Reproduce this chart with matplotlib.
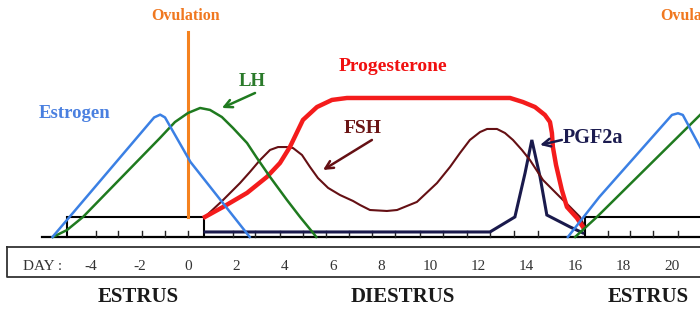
import matplotlib
matplotlib.use("Agg")
import matplotlib.pyplot as plt

# Hormone profiles over the bovine estrous cycle (day vs. relative level)
estrogen_days = [-5.6, -1.4, -1.15, -0.95, 0.1, 2.55]
estrogen_lvls = [0, 86, 88, 86, 54, 0]
estrogen2_days = [15.7, 17.0, 20.0, 20.25, 20.45, 21.4]
estrogen2_lvls = [0, 28.8, 87.8, 89, 87.8, 57]

lh_days = [-5.58, -5.0, -4.34, -1.16, -0.54, 0, 0.5, 0.91, 1.40, 1.86, 2.44,
           2.85, 3.39, 4.09, 4.63, 5.17, 5.3]
lh_lvls = [0, 5, 14.4, 71.2, 82.7, 89.2, 92.8, 91.4, 86.3, 78.4, 67.6,
           56.8, 43.2, 26.6, 14.4, 2.9, 0]
lh2_days = [16.0, 16.9, 21.5]
lh2_lvls = [0, 14.4, 93.6]

prog_days = [0.70, 1.45, 2.44, 3.26, 3.80, 4.21, 4.75, 5.33, 5.95, 6.57,
             13.31, 13.84, 14.34, 14.75, 14.96, 15.04, 15.08, 15.21, 15.45,
             15.66, 16.07, 16.32]
prog_lvls = [14.4, 21.6, 31.7, 43.2, 53.2, 64.7, 84.2, 93.5, 98.6, 100,
             100, 97.1, 93.5, 87.8, 82.7, 74.8, 64.7, 51.8, 33.8,
             21.6, 13.7, 7.2]

fsh_days = [0.70, 1.45, 2.15, 2.56, 2.98, 3.39, 3.72, 4.09, 4.34, 4.71, 5.04,
            5.37, 5.79, 6.28, 6.82, 7.11, 7.52, 8.22, 8.64, 9.46, 10.29,
            10.83, 11.24, 11.65, 12.07, 12.36, 12.77, 13.1, 13.43, 13.8,
            14.13, 14.67, 15.37, 15.79, 16.2, 16.4]
fsh_lvls = [14.4, 26.6, 38.8, 46.8, 55.4, 62.6, 64.7, 64.7, 64, 59, 50.4,
            42.4, 35.3, 30.2, 25.9, 23, 19.4, 18.7, 19.4, 25.2, 38.8,
            50.4, 60.4, 69.8, 75.5, 77.7, 77.7, 74.8, 69.8, 62.6,
            55.4, 41, 28.8, 21.6, 14.4, 7.2]

pgf_days = [0.70, 12.48, 13.51, 13.93, 14.21, 14.55, 14.83, 15.79, 16.32]
pgf_lvls = [3.6, 3.6, 14.4, 46, 69.8, 43.2, 15.8, 7.2, 2.9]

ovulation_day = 0
ovulation2_day = 20.95

# Day scale and phase bands
day_ticks = [-4, -2, 0, 2, 4, 6, 8, 10, 12, 14, 16, 18, 20]
tick_marks = [-3.8, -2.9, -1.9, -0.95, 0, 1.85, 2.75, 3.8, 4.75, 5.7, 6.65,
              7.6, 8.55, 9.59, 10.54, 11.53, 12.48, 13.47, 14.46,
              17.36, 18.26, 19.2, 20.25]
estrus1 = (-5.0, 0.66)
estrus2 = (16.4, 22.5)
phases = ["ESTRUS", "DIESTRUS", "ESTRUS"]
phase_centers = [-2.07, 8.88, 19.0]

C_EST = "#3b80e4"
C_LH = "#1f7a1f"
C_PROG = "#f41c1c"
C_FSH = "#651014"
C_PGF = "#1a1a4c"
C_OV = "#f5821f"

plt.rcParams["font.family"] = ["Liberation Serif", "DejaVu Serif"]

fig = plt.figure(figsize=(7.0, 3.28), dpi=100)
ax = fig.add_axes([0, 0, 1, 1])
ax.set_xlim(-7.77, 21.16)
ax.set_ylim(-65.5, 170.5)
ax.axis("off")

BAND = 14.4
# estrus boxes and baseline
for x0, x1 in (estrus1, estrus2):
    ax.plot([x0, x0, x1, x1], [0, BAND, BAND, 0], color="black", lw=1.5,
            solid_joinstyle="miter")
ax.plot([-6.03, 22], [0, 0], color="black", lw=1.6)
for t in tick_marks:
    ax.plot([t, t], [0, 4.0], color="#222222", lw=1.0)

# day bar
ax.plot([-7.48, -7.48, 22, 22, -7.48], [-7.2, -28.8, -28.8, -7.2, -7.2],
        color="#333333", lw=1.3)
ax.text(-6.0, -20.9, "DAY :", ha="center", va="center", fontsize=11, color="#333333")
for d in day_ticks:
    ax.text(d, -20.9, f"{d}", ha="center", va="center", fontsize=11, color="#333333")

for name, c in zip(phases, phase_centers):
    ax.text(c, -43.2, name, ha="center", va="center", fontsize=15,
            fontweight="bold", color="#1a1a1a")

# ovulation
ax.plot([ovulation_day, ovulation_day], [BAND, 147.5], color=C_OV, lw=2.2)

# hormone curves
ax.plot(pgf_days, pgf_lvls, color=C_PGF, lw=2.2, solid_joinstyle="miter")
ax.plot(fsh_days, fsh_lvls, color=C_FSH, lw=1.5)
ax.plot(prog_days, prog_lvls, color=C_PROG, lw=3.2)
ax.plot(lh_days, lh_lvls, color=C_LH, lw=1.8)
ax.plot(lh2_days, lh2_lvls, color=C_LH, lw=1.8)
ax.plot(estrogen_days, estrogen_lvls, color=C_EST, lw=1.8)
ax.plot(estrogen2_days, estrogen2_lvls, color=C_EST, lw=1.8)

# labels
lab = dict(ha="center", va="center", fontweight="bold")
ax.text(-0.12, 159, "Ovulation", color="#f07820", fontsize=11.5, **lab)
ax.text(ovulation2_day, 159, "Ovulation", color="#f07820", fontsize=11.5, **lab)
ax.text(-4.67, 89, "Estrogen", color="#4a80e0", fontsize=13.5, **lab)
ax.text(2.65, 112, "LH", color="#2a7a2a", fontsize=13.5, **lab)
ax.text(8.45, 123, "Progesterone", color="#f01010", fontsize=14, **lab)
ax.text(7.2, 78.4, "FSH", color="#6b1515", fontsize=14, **lab)
ax.text(15.5, 71, "PGF2a", color="#1c1c50", fontsize=14.5, ha="left", va="center",
        fontweight="bold")

arr = dict(arrowstyle="->", lw=1.8, mutation_scale=14, shrinkA=0, shrinkB=0)
ax.annotate("", xy=(1.40, 92.8), xytext=(2.77, 103.6),
            arrowprops=dict(color=C_LH, **arr))
ax.annotate("", xy=(5.58, 48.2), xytext=(7.6, 69.8),
            arrowprops=dict(color=C_FSH, **arr))
ax.annotate("", xy=(14.55, 66.2), xytext=(15.45, 69.8),
            arrowprops=dict(color=C_PGF, **arr))

fig.savefig("out.png", dpi=100)
